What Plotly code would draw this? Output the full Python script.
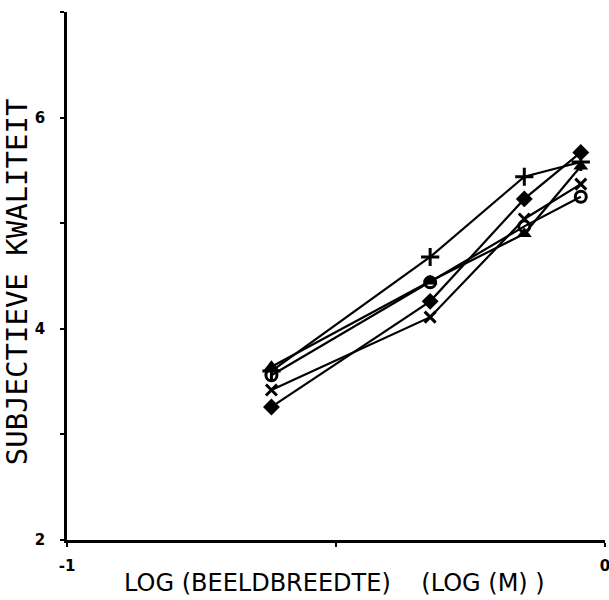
import plotly.graph_objects as go

# log(image width) positions of the four conditions
x_vals = [-0.62, -0.325, -0.15, -0.045]

# subjective quality per series
s_plus = [3.60, 4.68, 5.44, 5.58]
s_diamond = [3.26, 4.26, 5.23, 5.67]
s_triangle = [3.64, 4.45, 4.90, 5.54]
s_cross = [3.42, 4.11, 5.04, 5.37]
s_circle = [3.56, 4.44, 4.97, 5.25]

series = [
    ("plus", s_plus, dict(symbol="cross-thin-open", size=13, line=dict(width=3, color="black"))),
    ("diamond", s_diamond, dict(symbol="diamond", size=13, color="black", line=dict(width=0))),
    ("triangle", s_triangle, dict(symbol="triangle-up", size=13, color="black", line=dict(width=0))),
    ("cross", s_cross, dict(symbol="x-thin-open", size=11, line=dict(width=3, color="black"))),
    ("circle", s_circle, dict(symbol="circle-open", size=11, line=dict(width=3, color="black"))),
]

y_ticks = [2, 3, 4, 5, 6, 7]
y_ticktext = ["2", "", "4", "", "6", ""]
x_ticks = [-1, -0.5, 0]
x_ticktext = ["-1", "", "0"]

fig = go.Figure()
for name, ys, mk in series:
    fig.add_trace(go.Scatter(x=x_vals, y=ys, mode="lines+markers", name=name,
                             line=dict(color="black", width=2.2), marker=mk,
                             cliponaxis=False))

tickfont = dict(family="DejaVu Sans", size=15, color="black", weight="bold")
fig.update_layout(
    width=609, height=600,
    margin=dict(l=67, r=4, t=12, b=60),
    paper_bgcolor="white", plot_bgcolor="white",
    showlegend=False,
    xaxis=dict(range=[-1, 0], tickvals=x_ticks, ticktext=x_ticktext, automargin=False,
               showgrid=False, zeroline=False, showline=True, linecolor="black",
               linewidth=2.5, ticks="outside", ticklen=4, tickwidth=2, tickcolor="black",
               tickfont=tickfont, ticklabelstandoff=6, ticklabeloverflow="allow"),
    yaxis=dict(range=[2, 7], tickvals=y_ticks, ticktext=y_ticktext, automargin=False,
               showgrid=False, zeroline=False, showline=True, linecolor="black",
               linewidth=2.5, ticks="outside", ticklen=4, tickwidth=2, tickcolor="black",
               tickfont=tickfont, ticklabelstandoff=12, ticklabeloverflow="allow"),
    annotations=[
        dict(text="LOG (BEELDBREEDTE)    (LOG (M) )", xref="paper", yref="paper",
             x=0.497, y=-0.081, xanchor="center", yanchor="middle", showarrow=False,
             font=dict(family="DejaVu Sans", size=24, color="black")),
        dict(text="SUBJECTIEVE KWALITEIT", xref="paper", yref="paper",
             x=-0.093, y=0.49, xanchor="center", yanchor="middle", showarrow=False,
             textangle=-90,
             font=dict(family="DejaVu Sans Mono", size=29, color="black")),
    ],
)

fig.write_html("out.html", config={"displayModeBar": False},
               post_script="document.body.style.margin='0';document.body.style.overflow='hidden';")
